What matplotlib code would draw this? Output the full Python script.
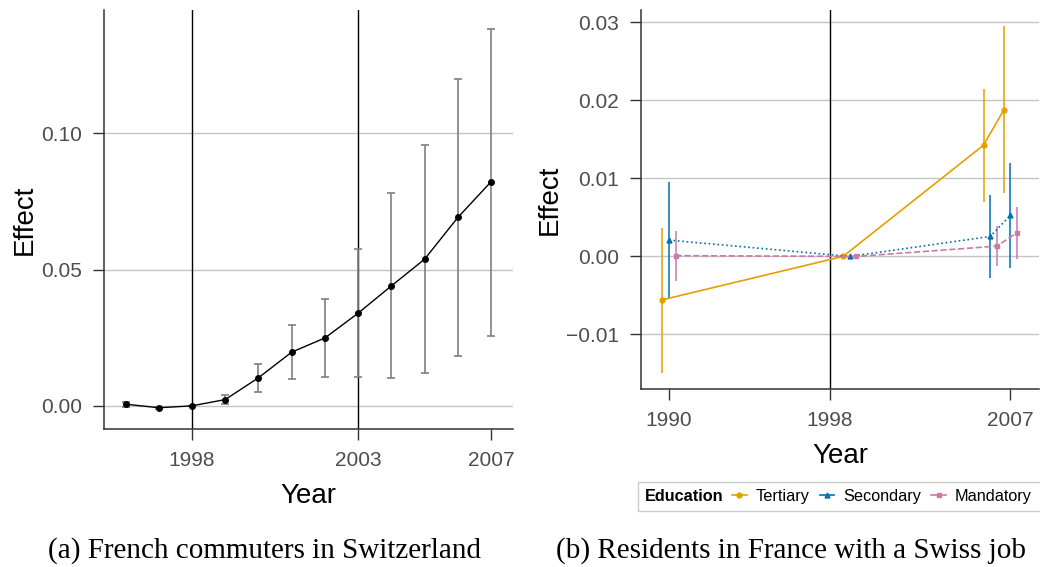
import matplotlib
matplotlib.use("Agg")
import matplotlib.pyplot as plt
from matplotlib.lines import Line2D
from matplotlib.patches import Rectangle
import numpy as np

plt.rcParams['font.family'] = ['Liberation Sans', 'DejaVu Sans']

# ---- Panel (a) data ----
years_a = [1996, 1997, 1998, 1999, 2000, 2001, 2002, 2003, 2004, 2005, 2006, 2007]
effect_a = [0.0006, -0.0007, 0.0, 0.0023, 0.0103, 0.0197, 0.0249, 0.0340, 0.0440, 0.0538, 0.0691, 0.0822]
lo_a = [-0.0004, -0.0011, 0.0, 0.0006, 0.0049, 0.0097, 0.0106, 0.0106, 0.0103, 0.0119, 0.0183, 0.0257]
hi_a = [0.0015, -0.0003, 0.0, 0.0039, 0.0155, 0.0296, 0.0391, 0.0574, 0.0780, 0.0956, 0.1198, 0.1383]
vlines_a = [1998, 2003]
xticks_a = [1998, 2003, 2007]
yticks_a = [0.00, 0.05, 0.10]
yticklabels_a = ["0.00", "0.05", "0.10"]

# ---- Panel (b) data ----
years_b = [1990, 1999, 2006, 2007]
groups = ["Tertiary", "Secondary", "Mandatory"]
tert = [-0.00556, 0.0, 0.01427, 0.01876]
tert_lo = [-0.0149, 0.0, 0.00696, 0.00816]
tert_hi = [0.00363, 0.0, 0.02145, 0.0295]
sec = [0.00209, 0.0, 0.00256, 0.00526]
sec_lo = [-0.0055, 0.0, -0.0028, -0.0015]
sec_hi = [0.00953, 0.0, 0.00786, 0.01196]
man = [0.0001, 0.0, 0.00132, 0.00303]
man_lo = [-0.0031, 0.0, -0.0012, -0.0003]
man_hi = [0.0032, 0.0, 0.00385, 0.00636]
vlines_b = [1998]
xticks_b = [1990, 1998, 2007]
yticks_b = [-0.01, 0.00, 0.01, 0.02, 0.03]
yticklabels_b = ["\u22120.01", "0.00", "0.01", "0.02", "0.03"]

caption_a = "(a) French commuters in Switzerland"
caption_b = "(b) Residents in France with a Swiss job"

# ---- styles ----
colors = ["#E69F00", "#0072B2", "#CC79A7"]
lstyles = ["-", ":", "--"]
markers = ["o", "^", "s"]
dodge = [-0.33, 0.0, 0.33]
tick_col = "#4D4D4D"
grid_col = "#C4C4C4"

fig = plt.figure(figsize=(10.4, 5.67), dpi=100)

def style_axes(ax):
    for s in ["top", "right"]:
        ax.spines[s].set_visible(False)
    for s in ["left", "bottom"]:
        ax.spines[s].set_color("#333333")
        ax.spines[s].set_linewidth(1.1)
    ax.tick_params(axis="both", length=8, width=1.0, color="#333333",
                   labelsize=15, labelcolor=tick_col, pad=7.5)
    ax.yaxis.grid(True, color=grid_col, lw=1.0)
    ax.xaxis.grid(False)
    ax.set_axisbelow(True)

# Panel (a)
ax1 = fig.add_axes([104/1040, 1-429/567, 409/1040, 419/567])
style_axes(ax1)
ea = np.array(effect_a)
yerr_a = [ea - np.array(lo_a), np.array(hi_a) - ea]
ax1.errorbar(years_a, effect_a, yerr=yerr_a, fmt="none", ecolor="#7F7F7F",
             elinewidth=1.2, capsize=3, capthick=1.2, zorder=2)
ax1.plot(years_a, effect_a, color="black", lw=1.0, marker="o", ms=4, zorder=3)
for v in vlines_a:
    ax1.axvline(v, color="black", lw=1.0, zorder=1)
ax1.set_xlim(1995.35, 2007.66)
ax1.set_ylim(-0.0085, 0.1452)
ax1.set_xticks(xticks_a)
ax1.set_yticks(yticks_a)
ax1.set_yticklabels(yticklabels_a)
ax1.set_xlabel("Year", fontsize=20, labelpad=10)
ax1.set_ylabel("Effect", fontsize=20)
ax1.yaxis.set_label_coords(-0.161, 0.5)

# Panel (b)
ax2 = fig.add_axes([640.7/1040, 1-389/567, 398.3/1040, 379/567])
style_axes(ax2)
series = [(tert, tert_lo, tert_hi), (sec, sec_lo, sec_hi), (man, man_lo, man_hi)]
handles = []
for i, (vals, lo, hi) in enumerate(series):
    x = np.array(years_b) + dodge[i]
    v = np.array(vals)
    yerr = [v - np.array(lo), np.array(hi) - v]
    ax2.errorbar(x, vals, yerr=yerr, fmt="none", ecolor=colors[i], elinewidth=1.3,
                 capsize=0, alpha=0.85, zorder=2)
    ax2.plot(x, vals, color=colors[i], ls=lstyles[i], lw=1.2, marker=markers[i],
             ms=3.5, zorder=3)
    handles.append(Line2D([], [], color=colors[i], ls="-", lw=1.2,
                          marker=markers[i], ms=3.5, label=groups[i]))
for v in vlines_b:
    ax2.axvline(v, color="black", lw=1.0, zorder=1)
ax2.set_xlim(1988.59, 2008.43)
ax2.set_ylim(-0.0170, 0.0316)
ax2.set_xticks(xticks_b)
ax2.set_yticks(yticks_b)
ax2.set_yticklabels(yticklabels_b)
ax2.set_xlabel("Year", fontsize=20, labelpad=10)
ax2.set_ylabel("Effect", fontsize=20)
ax2.yaxis.set_label_coords(-0.195, 0.5)

# Legend
fig.patches.append(Rectangle((638/1040, 1-511/567), 420/1040, 29.5/567,
                             transform=fig.transFigure, fill=True, facecolor="white",
                             edgecolor="#CCCCCC", lw=1.0))
fig.text(645/1040, 1-496.5/567, "Education", fontsize=11.7, fontweight="bold",
         va="center", ha="left", color="black")
fig.legend(handles=handles, ncol=3, loc="center left",
           bbox_to_anchor=(732/1040, 1-496.5/567), frameon=False, fontsize=11.7,
           handlelength=0.92, handletextpad=0.55, columnspacing=0.6,
           borderpad=0, borderaxespad=0)

# Captions
fig.text(265/1040, 1-551/567, caption_a, fontsize=21, family="Liberation Serif",
         ha="center", va="center")
fig.text(791/1040, 1-551/567, caption_b, fontsize=21, family="Liberation Serif",
         ha="center", va="center")

fig.savefig("out.png", dpi=100)
